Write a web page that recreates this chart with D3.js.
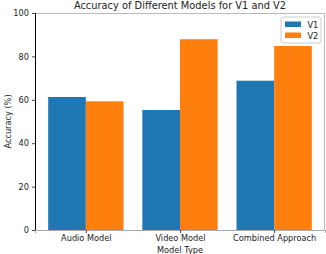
<!DOCTYPE html>
<html><head><meta charset="utf-8">
<script src="https://cdn.jsdelivr.net/npm/d3@7"></script>
<style>body{margin:0;background:#fff;}svg{display:block;font-family:"DejaVu Sans",sans-serif;}</style>
</head><body>
<script>
const categories = ["Audio Model", "Video Model", "Combined Approach"];
const seriesNames = ["V1", "V2"];
const v1 = [61.3, 55.3, 68.8];
const v2 = [59.3, 87.9, 84.8];
const yTicks = [0, 20, 40, 60, 80, 100];
const colors = ["#1f77b4", "#ff7f0e"];

const W = 326, H = 254;
const m = {left: 35, right: 1, top: 13, bottom: 24};
const FS = 8.2;
const svg = d3.select("body").append("svg").attr("width", W).attr("height", H);

const x = d3.scaleLinear().domain([-0.54, 2.54]).range([m.left, W - m.right]);
const y = d3.scaleLinear().domain([0, 100]).range([H - m.bottom, m.top]);
const bw = 0.4;

const data = [v1, v2];
data.forEach((vals, s) => {
  svg.append("g").selectAll("rect").data(vals).join("rect")
    .attr("x", (d, i) => x(i + (s === 0 ? -bw : 0)))
    .attr("width", x(bw) - x(0))
    .attr("y", d => y(d))
    .attr("height", d => y(0) - y(d))
    .attr("fill", colors[s]);
});

// frame
const fr = svg.append("g").attr("fill", "none");
fr.append("line").attr("x1", m.left).attr("x2", W - m.right).attr("y1", m.top + 0.5).attr("y2", m.top + 0.5).attr("stroke", "#bbb");
fr.append("line").attr("x1", W - m.right - 0.5).attr("x2", W - m.right - 0.5).attr("y1", m.top).attr("y2", H - m.bottom).attr("stroke", "#bbb");

const yAxis = svg.append("g").attr("transform", `translate(${m.left},0)`)
  .call(d3.axisLeft(y).tickValues(yTicks).tickSize(3).tickPadding(3));
yAxis.select(".domain").attr("stroke", "#000");
yAxis.selectAll("text").attr("font-size", FS).attr("fill", "#222").attr("font-family", "DejaVu Sans");
yAxis.selectAll(".tick line").attr("stroke", "#444");

const xAxis = svg.append("g").attr("transform", `translate(0,${H - m.bottom})`)
  .call(d3.axisBottom(x).tickValues([0, 1, 2]).tickFormat(i => categories[i]).tickSize(3).tickPadding(2));
xAxis.select(".domain").attr("stroke", "#aaa");
xAxis.selectAll("text").attr("font-size", FS).attr("fill", "#222").attr("font-family", "DejaVu Sans");
xAxis.selectAll(".tick line").attr("stroke", "#444");

svg.append("text").attr("x", (m.left + W - m.right) / 2).attr("y", 9)
  .attr("text-anchor", "middle").attr("font-size", 9.85).attr("fill", "#222").text("Accuracy of Different Models for V1 and V2");
svg.append("text").attr("x", (m.left + W - m.right) / 2).attr("y", 252.5)
  .attr("text-anchor", "middle").attr("font-size", FS).attr("fill", "#222").text("Model Type");
svg.append("text").attr("transform", `translate(10.5,${(m.top + H - m.bottom) / 2}) rotate(-90)`)
  .attr("text-anchor", "middle").attr("font-size", FS).attr("fill", "#222").text("Accuracy (%)");

// legend
const lg = svg.append("g").attr("transform", "translate(281,17)");
lg.append("rect").attr("width", 40).attr("height", 26).attr("rx", 2)
  .attr("fill", "#fff").attr("fill-opacity", 0.8).attr("stroke", "#ccc");
seriesNames.forEach((n, i) => {
  lg.append("rect").attr("x", 4).attr("y", 4.5 + i * 11).attr("width", 16).attr("height", 5.5).attr("fill", colors[i]);
  lg.append("text").attr("x", 26.5).attr("y", 10.5 + i * 11).attr("font-size", FS).attr("fill", "#222").text(n);
});
</script>
</body></html>
